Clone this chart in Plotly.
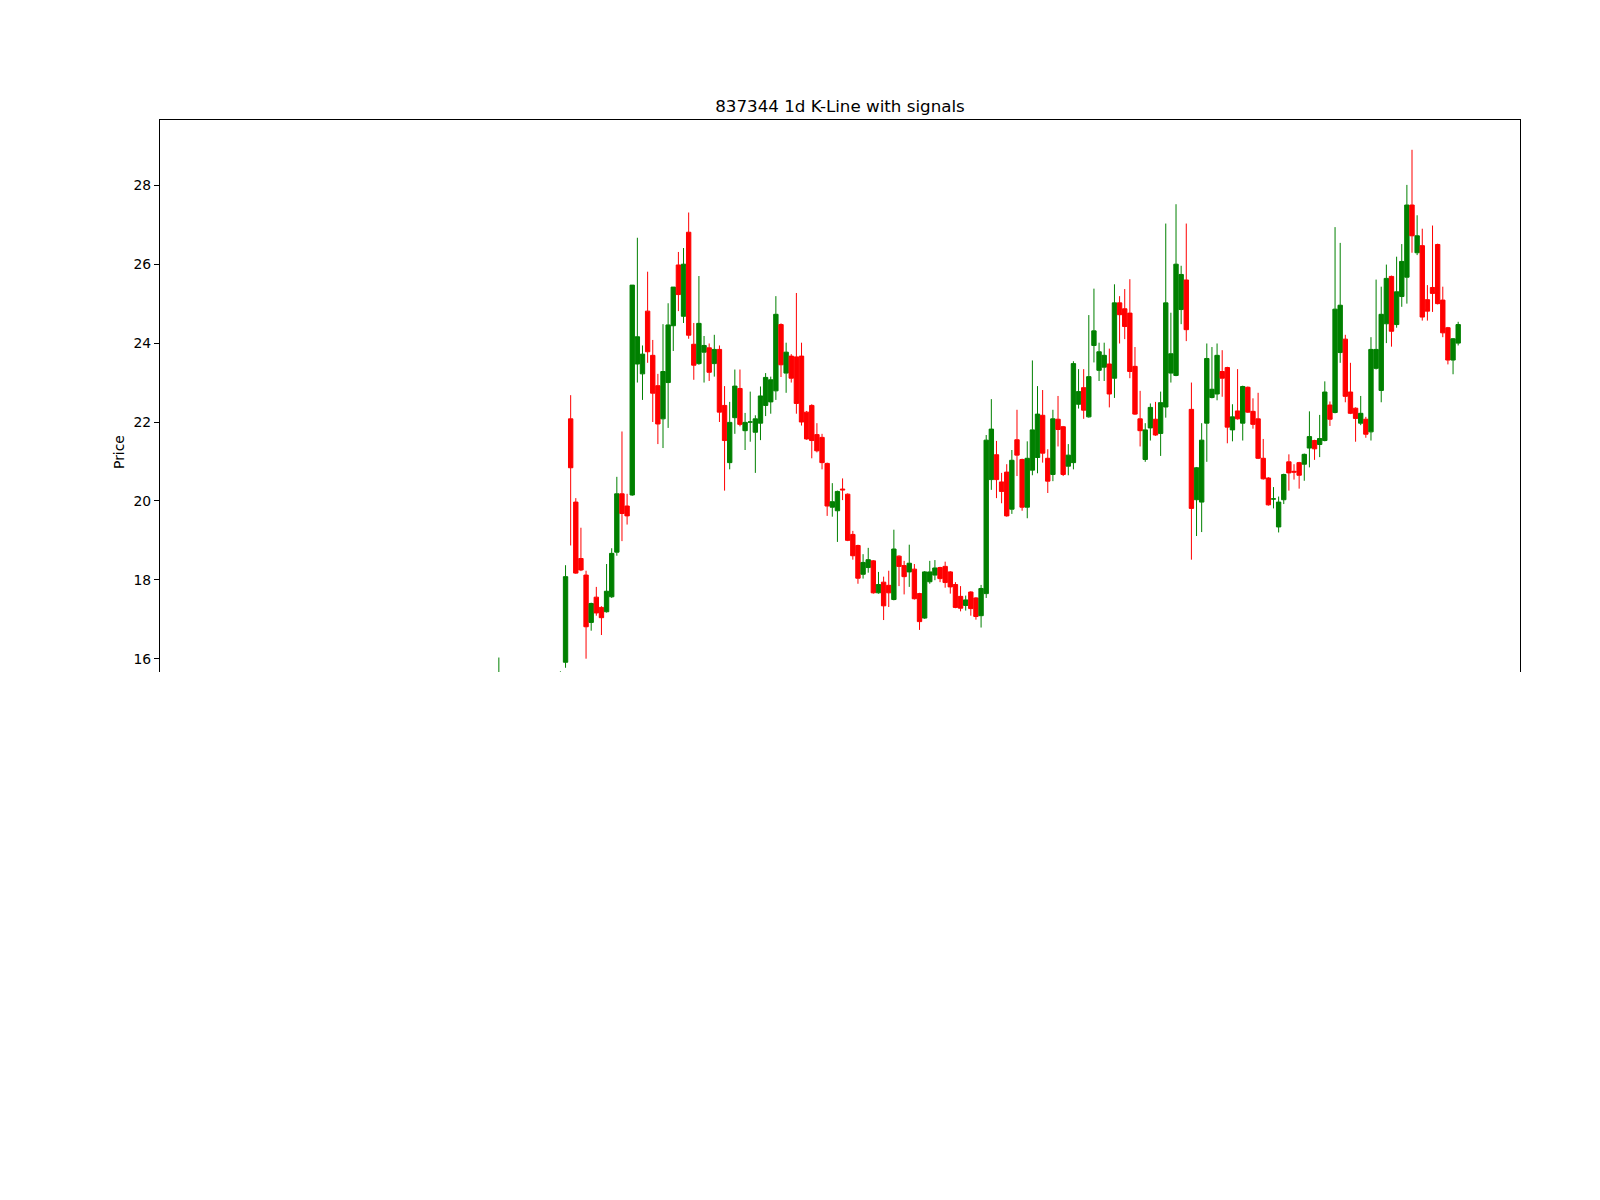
import plotly.graph_objects as go

title_text = "837344 1d K-Line with signals"
y_label = "Price"
y_ticks = [16, 18, 20, 22, 24, 26, 28]

# trading-bar index of each candle (earlier bars lie below the visible price window)
bar_index = [54, 66] + list(range(67, 242))

open_ = [15.30, 15.30,
    15.91, 22.08, 19.97, 18.54, 18.12, 16.92, 17.56, 17.30, 17.19, 17.57,
    18.70, 20.18, 19.87, 20.15, 23.47, 23.22, 24.81, 23.69, 22.92, 22.08,
    23.00, 24.44, 25.98, 24.68, 26.81, 23.97, 23.48, 23.77, 23.88, 23.48,
    23.84, 22.42, 20.97, 22.11, 22.85, 21.78, 22.00, 21.74, 21.97, 22.42,
    22.51, 22.79, 24.47, 23.24, 23.67, 23.65, 23.67, 22.25, 22.42, 21.68,
    21.61, 20.95, 19.84, 19.75, 20.30, 20.17, 19.15, 18.87, 18.14, 18.31,
    18.48, 17.67, 17.94, 17.86, 17.50, 18.60, 18.36, 18.20, 18.27, 17.65,
    17.03, 17.95, 18.12, 18.31, 18.34, 18.20, 17.88, 17.58, 17.35, 17.69,
    17.54, 17.09, 17.65, 20.54, 21.17, 20.48, 20.73, 19.79, 21.55, 21.05,
    19.84, 20.78, 21.10, 22.17, 21.08, 20.67, 22.07, 21.88, 20.88, 20.97,
    22.45, 22.87, 22.13, 23.94, 23.31, 23.39, 23.47, 23.11, 25.02, 24.87,
    24.76, 23.41, 22.08, 21.05, 21.85, 22.07, 21.71, 22.38, 23.24, 23.18,
    24.85, 25.60, 22.32, 20.03, 19.97, 21.97, 22.62, 22.71, 23.28, 23.38,
    21.80, 22.28, 21.97, 22.88, 22.27, 22.08, 21.08, 20.58, 20.05, 19.34,
    20.03, 20.99, 20.75, 20.97, 20.93, 21.34, 21.53, 21.43, 21.53, 22.43,
    22.24, 23.76, 24.10, 22.76, 22.35, 21.97, 22.07, 21.75, 23.36, 22.80,
    24.49, 25.69, 24.47, 25.18, 25.67, 27.50, 26.29, 26.47, 25.10, 25.41,
    26.50, 25.09, 24.39, 23.57, 24.00]

high = [16.03, 15.68,
    18.37, 22.68, 20.07, 19.32, 18.23, 17.42, 17.82, 17.33, 18.40, 18.80,
    20.61, 21.76, 20.18, 25.47, 26.67, 23.94, 25.81, 24.08, 23.22, 24.48,
    25.01, 25.42, 26.31, 26.41, 27.31, 24.51, 25.70, 24.18, 23.99, 24.21,
    23.94, 22.91, 22.51, 23.33, 23.33, 22.23, 22.77, 22.17, 22.90, 23.24,
    23.15, 25.19, 24.50, 24.01, 23.72, 25.27, 24.01, 22.28, 22.45, 21.97,
    21.70, 20.97, 20.45, 20.26, 20.57, 20.19, 19.24, 18.89, 18.65, 18.81,
    18.50, 18.20, 18.08, 18.23, 19.27, 18.62, 18.48, 18.89, 18.40, 17.67,
    18.22, 18.48, 18.50, 18.33, 18.46, 18.22, 17.94, 17.84, 17.60, 17.71,
    17.56, 17.87, 21.67, 22.58, 21.52, 20.71, 20.93, 21.29, 22.31, 21.07,
    21.51, 23.56, 22.91, 22.81, 21.31, 22.31, 22.66, 21.90, 21.44, 23.54,
    23.34, 23.34, 24.71, 25.38, 24.01, 24.01, 23.86, 25.49, 25.19, 25.37,
    25.62, 23.90, 22.79, 21.97, 22.47, 22.51, 22.77, 27.03, 24.77, 27.52,
    25.96, 27.03, 23.00, 20.86, 21.97, 23.99, 23.90, 23.99, 23.82, 23.40,
    22.45, 23.34, 22.92, 22.90, 22.60, 22.74, 21.57, 20.60, 20.35, 20.11,
    20.69, 21.18, 20.93, 20.99, 21.20, 22.27, 21.55, 22.18, 23.03, 22.52,
    26.94, 26.54, 24.21, 23.50, 22.37, 22.66, 22.13, 24.15, 25.61, 25.43,
    25.99, 25.71, 26.19, 26.51, 28.01, 28.90, 27.24, 26.90, 25.47, 26.98,
    26.52, 25.43, 24.41, 24.13, 24.54]

low = [15.10, 15.20,
    15.77, 18.87, 18.15, 18.22, 16.00, 16.71, 17.09, 16.60, 17.17, 17.54,
    18.61, 18.98, 19.40, 20.13, 23.00, 22.56, 23.50, 22.00, 21.44, 21.34,
    21.85, 23.80, 24.81, 24.51, 24.11, 23.07, 23.45, 23.00, 23.04, 23.15,
    22.00, 20.26, 20.80, 21.70, 21.89, 21.29, 21.50, 20.71, 21.54, 22.15,
    22.21, 22.56, 23.14, 22.74, 23.00, 22.21, 21.91, 21.55, 21.08, 21.23,
    20.80, 19.62, 19.60, 18.96, 20.02, 18.98, 18.51, 17.90, 18.03, 18.18,
    17.65, 17.65, 16.98, 17.31, 17.48, 17.84, 17.63, 17.82, 17.50, 16.73,
    17.01, 17.90, 17.99, 17.94, 17.80, 17.65, 17.28, 17.20, 17.22, 17.09,
    16.99, 16.79, 17.54, 20.28, 20.07, 19.94, 19.60, 19.67, 20.63, 19.75,
    19.56, 20.65, 20.70, 20.97, 20.20, 20.50, 21.38, 20.63, 20.65, 20.80,
    22.34, 22.08, 22.11, 23.51, 23.04, 23.04, 22.37, 22.61, 23.99, 24.10,
    23.11, 22.18, 21.38, 20.99, 21.53, 21.65, 21.14, 22.11, 23.00, 23.16,
    24.48, 24.05, 18.51, 19.11, 19.21, 20.99, 22.60, 22.55, 22.64, 21.46,
    21.51, 22.06, 21.53, 22.23, 21.83, 21.06, 20.54, 19.88, 19.81, 19.20,
    19.92, 20.26, 20.54, 20.31, 20.51, 20.85, 21.04, 21.11, 21.51, 21.90,
    22.22, 23.50, 22.50, 22.20, 21.50, 21.92, 21.60, 21.53, 23.33, 22.50,
    24.00, 23.91, 24.39, 24.92, 25.00, 26.29, 26.23, 24.57, 24.57, 24.79,
    24.98, 24.15, 23.46, 23.21, 23.94]

close = [15.55, 15.60,
    18.08, 20.84, 18.17, 18.25, 16.81, 17.40, 17.16, 17.04, 17.71, 18.67,
    20.18, 19.68, 19.62, 25.47, 24.16, 23.72, 23.78, 22.73, 21.95, 23.28,
    24.46, 25.42, 25.23, 26.00, 24.20, 23.44, 24.50, 23.94, 23.26, 23.84,
    22.25, 21.53, 21.99, 22.91, 21.94, 21.99, 22.00, 22.08, 22.66, 23.13,
    23.07, 24.73, 23.45, 23.77, 23.11, 22.47, 22.00, 21.57, 21.53, 21.27,
    20.97, 19.87, 19.98, 20.24, 20.28, 19.00, 18.61, 18.04, 18.44, 18.51,
    17.67, 17.88, 17.34, 17.67, 18.78, 18.34, 18.08, 18.42, 17.52, 16.94,
    18.20, 18.20, 18.30, 18.03, 17.93, 17.82, 17.30, 17.28, 17.49, 17.27,
    17.07, 17.78, 21.54, 21.82, 20.54, 20.24, 19.62, 21.03, 21.16, 19.84,
    21.08, 21.80, 22.20, 21.21, 20.50, 22.08, 21.81, 20.67, 21.16, 23.48,
    22.77, 22.30, 23.15, 24.31, 23.78, 23.69, 22.71, 25.02, 24.72, 24.42,
    23.28, 22.20, 21.78, 21.80, 22.37, 21.67, 22.49, 25.02, 23.73, 26.00,
    25.74, 24.34, 19.81, 20.84, 21.54, 23.61, 22.83, 23.69, 23.11, 21.87,
    22.13, 22.08, 22.90, 22.25, 21.94, 21.08, 20.56, 19.90, 20.05, 19.97,
    20.67, 20.71, 20.73, 20.65, 21.18, 21.63, 21.32, 21.58, 22.76, 22.07,
    24.86, 24.96, 22.65, 22.22, 22.09, 22.22, 21.69, 23.84, 23.84, 24.73,
    25.64, 24.30, 25.30, 26.07, 27.50, 26.72, 26.72, 24.66, 24.81, 25.26,
    25.00, 24.26, 23.57, 24.11, 24.47]

fig = go.Figure()
fig.add_trace(go.Candlestick(
    x=bar_index, open=open_, high=high, low=low, close=close,
    increasing=dict(line=dict(color="#008000", width=1), fillcolor="#008000"),
    decreasing=dict(line=dict(color="#FF0000", width=1), fillcolor="#FF0000"),
    whiskerwidth=0, hoverinfo="skip", showlegend=False,
))

n_span = bar_index[-1] - 0
pad = 0.05 * n_span

font_family = "DejaVu Sans"
fig.update_layout(
    width=1600, height=1200, autosize=False,
    margin=dict(l=160, r=80, t=120, b=528, pad=0),
    paper_bgcolor="white", plot_bgcolor="white",
    boxgap=0.15, boxgroupgap=0,
    hovermode=False,
    font=dict(family=font_family, color="black"),
    title=dict(text=title_text, x=0.5, xanchor="center", xref="paper",
               yref="container", y=1 - 112 / 1200, yanchor="bottom",
               font=dict(family=font_family, size=16.7, color="black")),
    xaxis=dict(range=[0 - pad, bar_index[-1] + pad], side="top", showline=True,
               linecolor="black", linewidth=1.1, showticklabels=False, ticks="",
               showgrid=False, zeroline=False, rangeslider=dict(visible=False)),
    yaxis=dict(range=[15.663, 29.655], tickvals=y_ticks, ticks="outside",
               ticklen=5, tickwidth=1.1, tickcolor="black", showline=True,
               mirror=True, linecolor="black", linewidth=1.1, showgrid=False,
               zeroline=False, tickfont=dict(family=font_family, size=13.9, color="black")),
    annotations=[dict(text=y_label, xref="paper", yref="paper",
                      x=(119 - 160) / 1360, y=(672 - 452) / 552, textangle=-90,
                      showarrow=False, xanchor="center", yanchor="middle",
                      font=dict(family=font_family, size=13.9, color="black"))],
)

fig.write_html("out.html", config={"displayModeBar": False},
               post_script="document.body.style.margin='0';document.body.style.padding='0';")
